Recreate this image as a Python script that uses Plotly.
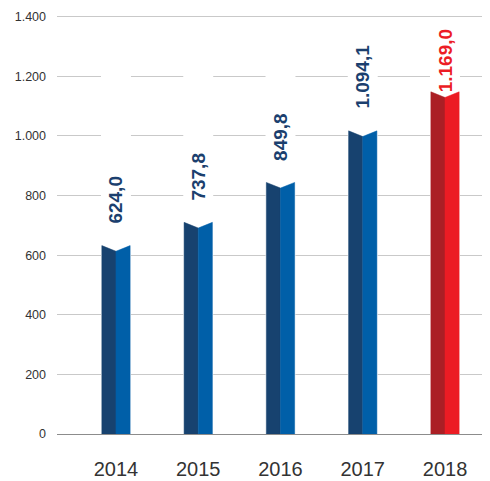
import plotly.graph_objects as go

# ---- data ----
years = ["2014", "2015", "2016", "2017", "2018"]
value_labels = ["624,0", "737,8", "849,8", "1.094,1", "1.169,0"]
values = [624.0, 737.8, 849.8, 1094.1, 1169.0]
# bar heights as drawn in the picture (top of the bar sides)
bar_heights = [632, 710, 844, 1017, 1148]
highlight = [False, False, False, False, True]

y_ticks = [0, 200, 400, 600, 800, 1000, 1200, 1400]
y_tick_text = ["0", "200", "400", "600", "800", "1.000", "1.200", "1.400"]

# ---- styling ----
BLUE_DARK, BLUE_LIGHT = "#17426f", "#005fa8"
RED_DARK, RED_LIGHT = "#ab1f25", "#ec1c24"
LABEL_BLUE, LABEL_RED = "#1b3f6e", "#ec1c24"
HALF = 0.172
NOTCH = 19

fig = go.Figure()
shapes = []
annotations = []

for i, (yr, h, lab, hl) in enumerate(zip(years, bar_heights, value_labels, highlight)):
    c = i
    dark, light = (RED_DARK, RED_LIGHT) if hl else (BLUE_DARK, BLUE_LIGHT)
    # white column hiding the gridlines above the bar
    shapes.append(dict(type="rect", xref="x", yref="y", layer="between",
                       x0=c - HALF - 0.01, x1=c + HALF + 0.01, y0=0, y1=1385,
                       fillcolor="white", line=dict(width=0)))
    # left half
    fig.add_trace(go.Scatter(
        x=[c - HALF, c - HALF, c, c, c - HALF],
        y=[0, h, h - NOTCH, 0, 0],
        fill="toself", fillcolor=dark, mode="lines",
        line=dict(color=dark, width=0.5), hoverinfo="skip", showlegend=False))
    # right half
    fig.add_trace(go.Scatter(
        x=[c, c, c + HALF, c + HALF, c],
        y=[0, h - NOTCH, h, 0, 0],
        fill="toself", fillcolor=light, mode="lines",
        line=dict(color=light, width=0.5), hoverinfo="skip", showlegend=False))
    annotations.append(dict(
        x=c, y=h, xref="x", yref="y", text=f"<b>{lab}</b>",
        textangle=-90, showarrow=False, xanchor="center", yanchor="bottom",
        yshift=-3 if hl else 20,
        font=dict(family="Liberation Sans Narrow, Arial Narrow, Liberation Sans, Arial",
                  size=19, color=LABEL_RED if hl else LABEL_BLUE)))

fig.update_layout(
    template="none",
    width=482, height=473,
    margin=dict(l=49, r=0, t=0, b=47, autoexpand=False),
    paper_bgcolor="white", plot_bgcolor="white",
    shapes=shapes, annotations=annotations,
    showlegend=False,
    xaxis=dict(range=[-0.717, 4.547], tickmode="array", tickvals=list(range(len(years))),
               ticktext=years, showgrid=False, zeroline=False,
               showline=True, linecolor="#8c8c8c", linewidth=1,
               ticks="", ticklabelstandoff=17, automargin=False,
               tickfont=dict(family="Liberation Sans, Arial", size=20, color="#333333")),
    yaxis=dict(range=[0, 1429.2], tickmode="array", tickvals=y_ticks, ticktext=y_tick_text,
               showgrid=True, gridcolor="#c9c9c9", gridwidth=1, zeroline=False,
               showline=False, ticks="", ticklabelstandoff=10, automargin=False,
               tickfont=dict(family="Liberation Sans, Arial", size=12.5, color="#333333")),
)

fig.write_html("out.html")
